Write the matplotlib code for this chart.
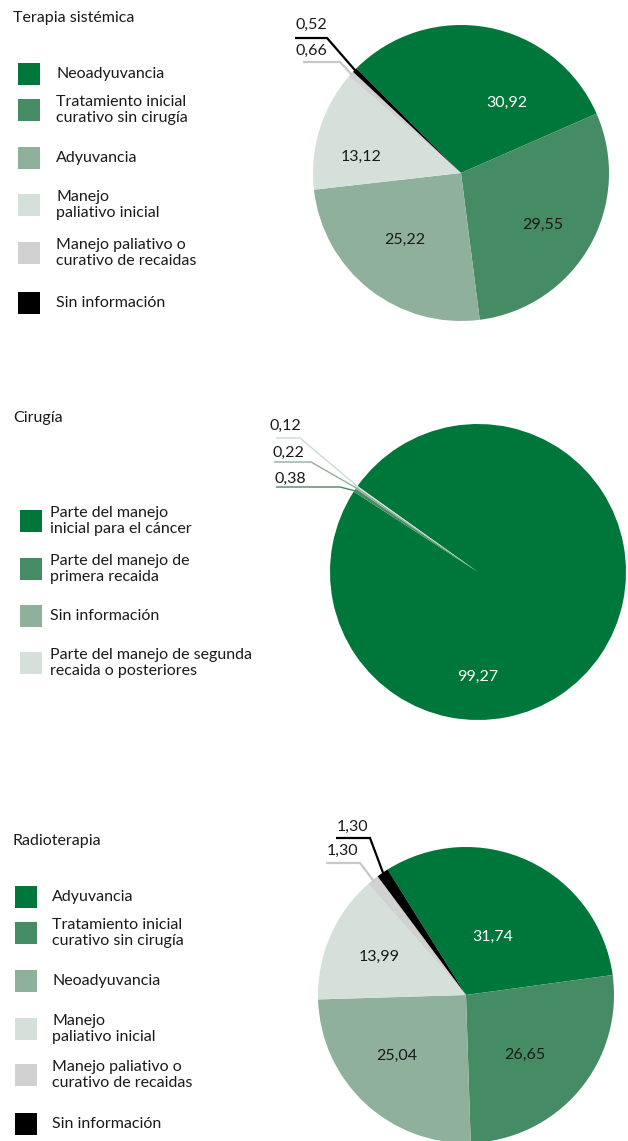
import matplotlib.pyplot as plt
import numpy as np

plt.rcParams["font.family"] = ["Lato", "DejaVu Sans"]

# Terapia sistémica
sist_labels = ["Neoadyuvancia", "Tratamiento inicial\ncurativo sin cirugía", "Adyuvancia",
               "Manejo\npaliativo inicial", "Manejo paliativo o\ncurativo de recaidas",
               "Sin información"]
sist_values = [30.92, 29.55, 25.22, 13.12, 0.66, 0.52]

# Cirugía
cir_labels = ["Parte del manejo\ninicial para el cáncer", "Parte del manejo de\nprimera recaida",
              "Sin información", "Parte del manejo de segunda\nrecaida o posteriores"]
cir_values = [99.27, 0.38, 0.22, 0.12]

# Radioterapia
radio_labels = ["Adyuvancia", "Tratamiento inicial\ncurativo sin cirugía", "Neoadyuvancia",
                "Manejo\npaliativo inicial", "Manejo paliativo o\ncurativo de recaidas",
                "Sin información"]
radio_values = [31.74, 26.65, 25.04, 13.99, 1.30, 1.30]

GREEN = ["#00773a", "#458c64", "#8fb09b", "#d5e0da"]
COLORS6 = GREEN + ["#d1d1d1", "#000000"]
DARK = "#1a1a1a"
FS = 11.5

W, H = 628, 1141
fig = plt.figure(figsize=(W / 100, H / 100), dpi=100)
ax = fig.add_axes([0, 0, 1, 1])


def fmt(v):
    return f"{v:.2f}".replace(".", ",")


def legend(title, title_y, labels, colors, box_x, text_x, box_ys):
    ax.text(13, H - title_y, title, fontsize=FS, color=DARK, va="center", ha="left")
    for lab, col, by in zip(labels, colors, box_ys):
        ax.add_patch(plt.Rectangle((box_x, H - by - 22), 22, 22, color=col, lw=0))
        ax.text(text_x, H - by - 11, lab, fontsize=FS, color=DARK, va="center",
                ha="left", linespacing=1.1)


def pie(values, colors, cx, cy, start, r=148):
    wedges, _ = ax.pie(values, colors=colors, startangle=start, counterclock=False,
                       center=(cx, H - cy), radius=r, wedgeprops=dict(linewidth=0))
    return wedges


def inner_labels(values, spots, text_colors):
    for v, (x, y), c in zip(values, spots, text_colors):
        ax.text(x, H - y, fmt(v), fontsize=FS, color=c, ha="center", va="center")


def leader(wedge, cx, cy, r, label, text_xy, seg, color, lw=1.6):
    mid = np.deg2rad((wedge.theta1 + wedge.theta2) / 2)
    ex, ey = cx + (r - 2) * np.cos(mid), (H - cy) + (r - 2) * np.sin(mid)
    (x0, y0), (x1, _) = seg
    ax.plot([x0, x1, ex], [H - y0, H - y0, ey], color=color, lw=lw,
            solid_joinstyle="miter", solid_capstyle="butt")
    ax.text(text_xy[0], H - text_xy[1], label, fontsize=FS, color=DARK,
            ha="center", va="center")


# Terapia sistémica
legend("Terapia sistémica", 18, sist_labels, COLORS6, 18, 56,
       [63, 99, 147, 194, 242, 292])
w = pie(sist_values, COLORS6, 461, 173, 135)
inner_labels(sist_values[:4], [(507, 103), (543, 225), (405, 240), (361, 157)],
             ["white", DARK, DARK, DARK])
leader(w[5], 461, 173, 148, fmt(sist_values[5]), (311, 25), [(295, 38), (327, 38)], "#000000")
leader(w[4], 461, 173, 148, fmt(sist_values[4]), (311, 51), [(303, 62), (340, 62)], "#c8c8c8")

# Cirugía
legend("Cirugía", 418, cir_labels, GREEN, 20, 50, [510, 558, 605, 652])
w = pie(cir_values, GREEN, 478, 572, 144.5)
inner_labels(cir_values[:1], [(478, 677)], ["white"])
leader(w[3], 478, 572, 148, fmt(cir_values[3]), (285, 426), [(276, 438), (300, 438)], "#c8dcd0", 1.0)
leader(w[2], 478, 572, 148, fmt(cir_values[2]), (288, 453), [(274, 462), (311, 462)], "#8fb09b", 1.0)
leader(w[1], 478, 572, 148, fmt(cir_values[1]), (290, 479), [(276, 487), (340, 487)], "#458c64", 1.0)

# Radioterapia
legend("Radioterapia", 841, radio_labels, COLORS6, 15, 52,
       [886, 922, 970, 1018, 1064, 1113])
w = pie(radio_values, COLORS6, 466, 995, 122)
inner_labels(radio_values[:4], [(493, 937), (525, 1055), (397, 1056), (379, 957)],
             ["white", DARK, DARK, DARK])
leader(w[5], 466, 995, 148, fmt(radio_values[5]), (352, 827), [(336, 838), (370, 838)], "#000000")
leader(w[4], 466, 995, 148, fmt(radio_values[4]), (343, 851), [(326, 863), (360, 863)], "#c8c8c8")

ax.set_xlim(0, W)
ax.set_ylim(0, H)
ax.set_aspect("auto")
ax.axis("off")

fig.savefig("out.png", dpi=100, facecolor="white")
